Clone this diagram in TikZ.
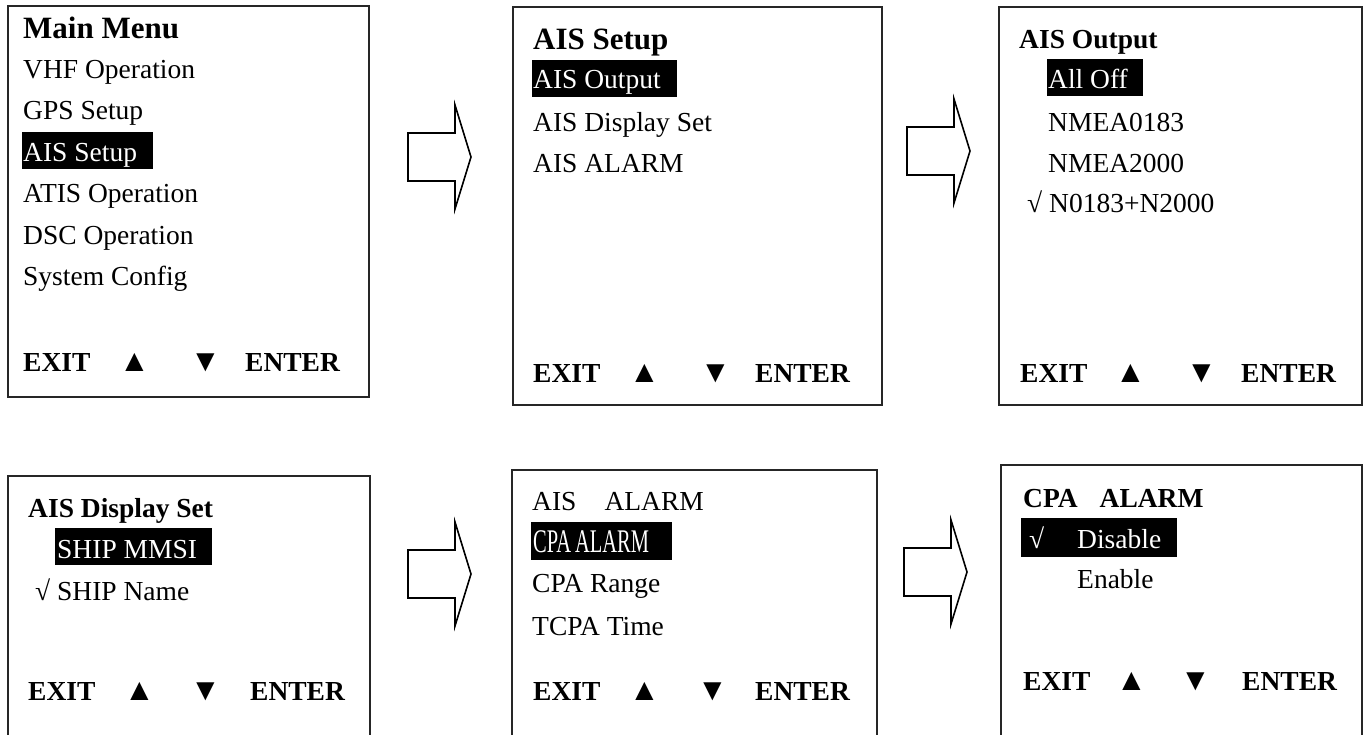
\documentclass[tikz,border=0pt]{standalone}
\usepackage{fontspec}
\setmainfont{Liberation Serif}
\newfontfamily\narrowfont[FakeStretch=0.62]{Liberation Serif}

% block arrow between two screens: left end and middle height
\newcommand{\nextarrow}[3]{%
  \draw[blockarrow] (#1,#2-24) -- ++(47,0) -- ++(0,-28) -- (#1+63,#2) coordinate (#3)
    -- (#1+47,#2+52) -- ++(0,-28) -- (#1,#2+24) -- cycle;}

% the soft key row at the foot of a screen
\newcommand{\keyrow}[6]{%
  \node[menutitle] (#6exit) at (#1,#5) {EXIT};
  \node[keymark] (#6up) at (#2-3,#5) {▲};
  \node[keymark] (#6down) at (#3-3,#5) {▼};
  \node[menutitle] (#6enter) at (#4,#5) {ENTER};}

\begin{document}
\begin{tikzpicture}[x=1pt,y=-1pt]
\tikzstyle{menuitem} = [anchor=base west, inner sep=0pt, font=\fontsize{27.5}{33}\selectfont]
\tikzstyle{menutitle} = [menuitem, font=\fontsize{27.5}{33}\selectfont\bfseries]
\tikzstyle{keymark} = [menuitem, font=\fontsize{31}{37}\selectfont]
\tikzstyle{bigtitle} = [menuitem, font=\fontsize{31}{37}\selectfont\bfseries]
\tikzstyle{seltext} = [menuitem, text=white]
\tikzstyle{screen} = [draw=black!85, line width=1.3pt]
\tikzstyle{selbar} = [fill=black]
\tikzstyle{blockarrow} = [draw, line width=1.6pt, line join=miter, fill=white]

\useasboundingbox (0,0) rectangle (1363,735);

% screens
\draw[screen] (8,6) rectangle (369,397);
\draw[screen] (513,7) rectangle (882,405);
\draw[screen] (999,7) rectangle (1362,405);
\draw[screen] (8,735) |- (370,476) -- (370,735);
\draw[screen] (512,735) |- (877,470) -- (877,735);
\draw[screen] (1001,735) |- (1362,465) -- (1362,735);

% arrows
\nextarrow{408}{157}{tipa}
\nextarrow{907}{151}{tipb}
\nextarrow{408}{574}{tipc}
\nextarrow{904}{572}{tipd}

% selection bars
\fill[selbar] (22,132) rectangle (153,169);
\fill[selbar] (532,60) rectangle (677,97);
\fill[selbar] (1047,59) rectangle (1143,96);
\fill[selbar] (55,528) rectangle (212,565);
\fill[selbar] (531,522) rectangle (672,560);
\fill[selbar] (1021,518) rectangle (1177,557);

% main menu
\node[bigtitle] (mainmenu) at (23,39) {Main Menu};
\node[menuitem] (vhf) at (23,79) {VHF Operation};
\node[menuitem] (gps) at (23,120) {GPS Setup};
\node[seltext] (ais) at (23,162) {AIS Setup};
\node[menuitem] (atis) at (23,203) {ATIS Operation};
\node[menuitem] (dsc) at (23,245) {DSC Operation};
\node[menuitem] (sys) at (23,286) {System Config};
\keyrow{23}{122}{193}{245}{371}{a}

% ais setup
\node[bigtitle] (aissetup) at (533,50) {AIS Setup};
\node[seltext] (aisout) at (533,89) {AIS Output};
\node[menuitem] (aisdisp) at (533,132) {AIS Display Set};
\node[menuitem] (aisalarm) at (533,173) {AIS ALARM};
\keyrow{533}{632}{703}{755}{382}{b}

% ais output
\node[menutitle] (outtitle) at (1019,49) {AIS Output};
\node[seltext] (alloff) at (1048,89) {All Off};
\node[menuitem] (nmeaa) at (1048,132) {NMEA0183};
\node[menuitem] (nmeab) at (1048,173) {NMEA2000};
\node[menuitem] (nboth) at (1027,213) {√ N0183+N2000};
\keyrow{1020}{1118}{1189}{1241}{382}{c}

% ais display set
\node[menutitle] (disptitle) at (28,517) {AIS Display Set};
\node[seltext] (mmsi) at (57,558) {SHIP MMSI};
\node[menuitem] (shipname) at (35,600) {√ SHIP Name};
\keyrow{28}{127}{193}{250}{700}{d}

% ais alarm
\node[menuitem] (alarmtitle) at (532,510) {AIS\hspace{28pt}ALARM};
\node[seltext, font=\fontsize{33}{38}\narrowfont] (cpaalarm) at (533,552) {CPA\hspace{4pt}ALARM};
\node[menuitem] (cparange) at (532,592) {CPA Range};
\node[menuitem] (tcpa) at (532,635) {TCPA Time};
\keyrow{533}{632}{700}{755}{700}{e}

% cpa alarm
\node[menutitle] (cpatitle) at (1023,507) {CPA\hspace{22pt}ALARM};
\node[seltext] (tick) at (1029,548) {√};
\node[seltext] (disable) at (1077,548) {Disable};
\node[menuitem] (enable) at (1077,588) {Enable};
\keyrow{1023}{1119}{1183}{1242}{690}{f}

\end{tikzpicture}
\end{document}
